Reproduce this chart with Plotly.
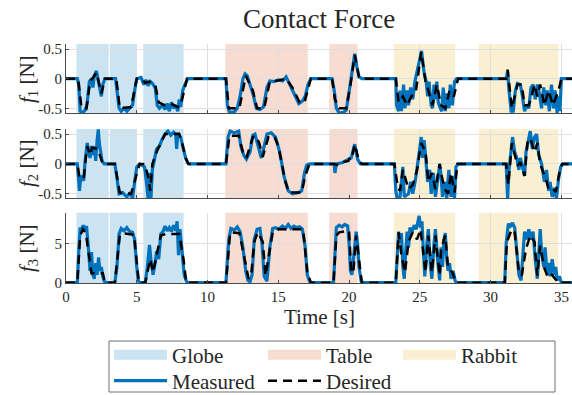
import plotly.graph_objects as go

# ---------------- data ----------------
X_TICKS = [0, 5, 10, 15, 20, 25, 30, 35]
Y_TICKS_12 = [-0.5, 0, 0.5]
Y_TICKTEXT_12 = ["-0.5", "0", "0.5"]
Y_TICKS_3 = [0, 5]
Y_TICKTEXT_3 = ["0", "5"]

GLOBE_SPANS = [(0.74, 3.02), (3.10, 4.95), (5.46, 8.31)]
TABLE_SPANS = [(11.26, 17.08), (18.60, 20.60)]
RABBIT_SPANS = [(23.16, 27.50), (29.17, 34.79)]

F1_DESIRED = [(0,0),(0.85,0),(1.1,-0.5),(1.45,-0.5),(1.7,-0.05),(2.16,0.1),(2.5,-0.25),(2.75,0),(3.55,0),(3.8,-0.5),
              (4.6,-0.48),(5.0,0),(5.3,0),(5.6,-0.07),(5.9,-0.05),(6.3,-0.1),(6.55,-0.4),(7.0,-0.45),(7.4,-0.42),(7.9,-0.48),
              (8.1,-0.45),(8.55,0),(11.3,0),(11.5,-0.5),(12.25,-0.5),(12.7,0.05),(13.2,-0.2),(13.5,-0.5),(14.0,-0.5),(14.4,-0.05),
              (15.0,-0.03),(15.55,0.0),(16.0,-0.15),(16.5,-0.4),(16.85,-0.4),(17.3,0),(18.8,0),(19.0,-0.35),(19.3,-0.5),(19.8,-0.5),
              (20.1,-0.1),(20.4,0.4),(20.7,0.03),(20.9,0),(23.3,0),(23.5,-0.4),(23.8,-0.3),(24.1,-0.45),(24.4,-0.3),(24.7,-0.25),
              (25.1,0.45),(25.4,-0.05),(25.6,-0.2),(25.9,-0.45),(26.2,-0.1),(26.5,-0.45),(26.8,-0.5),(27.1,-0.2),(27.4,-0.3),(27.7,0),
              (31.1,0),(31.2,0.15),(31.5,-0.5),(31.9,-0.1),(32.2,-0.1),(32.4,-0.45),(32.7,-0.45),(33.1,-0.1),(33.3,-0.3),(33.5,-0.1),
              (33.8,-0.45),(34.1,-0.2),(34.4,-0.45),(34.8,-0.2),(35.0,0),(35.75,0)]

F1_MEASURED = [(0,0),(0.8,0),(0.9,-0.1),(1.0,-0.55),(1.2,-0.57),(1.4,-0.52),(1.5,-0.4),(1.65,-0.05),(1.8,0.0),(1.9,-0.15),
               (2.0,0.05),(2.15,0.13),(2.25,0.0),(2.4,-0.2),(2.5,-0.3),(2.6,-0.1),(2.75,0.0),(3.5,0),(3.6,-0.2),(3.75,-0.5),
               (3.9,-0.55),(4.1,-0.5),(4.3,-0.55),(4.5,-0.5),(4.7,-0.45),(4.85,-0.2),(5.0,0.0),(5.3,0.02),(5.5,-0.1),(5.65,-0.02),
               (5.8,-0.12),(5.95,-0.05),(6.1,-0.08),(6.3,-0.15),(6.45,-0.45),(6.6,-0.5),(6.8,-0.45),(7.0,-0.52),(7.15,-0.42),(7.3,-0.55),
               (7.45,-0.4),(7.6,-0.5),(7.75,-0.45),(7.9,-0.55),(8.0,-0.35),(8.1,-0.48),(8.25,-0.2),(8.4,-0.1),(8.6,0),(11.3,0),
               (11.4,-0.45),(11.55,-0.57),(11.9,-0.56),(12.1,-0.5),(12.3,-0.3),(12.5,0.0),(12.65,0.08),(12.8,0.05),(13.0,-0.1),(13.2,-0.25),
               (13.45,-0.5),(13.7,-0.52),(13.95,-0.48),(14.2,-0.15),(14.4,-0.04),(14.7,-0.05),(15.0,-0.02),(15.3,-0.04),(15.55,0.03),(15.8,-0.1),
               (16.1,-0.25),(16.45,-0.42),(16.7,-0.38),(16.9,-0.3),(17.1,-0.1),(17.3,0),(18.8,0),(18.95,-0.2),(19.1,-0.5),(19.3,-0.58),
               (19.6,-0.57),(19.8,-0.53),(19.95,-0.3),(20.1,-0.05),(20.25,0.15),(20.4,0.42),(20.55,0.2),(20.7,0.03),(20.9,0),(23.3,0),
               (23.35,-0.45),(23.5,-0.55),(23.6,-0.2),(23.7,-0.55),(23.85,-0.1),(23.95,-0.5),(24.1,-0.2),(24.2,-0.45),(24.35,-0.15),(24.5,-0.35),
               (24.65,-0.05),(24.8,0.1),(25.0,0.35),(25.12,0.47),(25.3,0.1),(25.45,-0.05),(25.55,-0.3),(25.65,-0.05),(25.8,-0.45),(25.9,-0.5),
               (26.0,-0.1),(26.1,-0.35),(26.2,-0.05),(26.3,-0.4),(26.45,-0.5),(26.55,-0.55),(26.65,-0.15),(26.8,-0.55),(26.9,-0.25),(27.05,-0.5),
               (27.15,-0.1),(27.3,-0.45),(27.45,-0.05),(27.6,0),(31.1,0),(31.2,0.12),(31.3,-0.2),(31.45,-0.55),(31.6,-0.55),(31.75,-0.2),
               (31.9,-0.08),(32.1,-0.1),(32.25,-0.3),(32.4,-0.55),(32.55,-0.45),(32.7,-0.5),(32.85,-0.15),(33.0,-0.1),(33.15,-0.35),(33.3,-0.1),
               (33.45,-0.25),(33.6,-0.5),(33.75,-0.15),(33.9,-0.45),(34.0,-0.2),(34.15,-0.55),(34.3,-0.1),(34.45,-0.5),(34.55,-0.2),(34.7,-0.58),
               (34.8,-0.3),(34.9,-0.55),(35.0,0),(35.75,0)]

F2_DESIRED = [(0,0),(0.8,0),(0.95,-0.22),(1.25,-0.25),(1.4,0.1),(1.5,0.3),(1.7,0.15),(1.85,0.27),(2.25,0.25),(2.6,0),
              (3.45,0),(3.6,-0.2),(3.8,-0.48),(4.6,-0.5),(4.85,-0.3),(5.2,0),(5.55,0),(5.8,-0.2),(5.95,-0.45),(6.1,0.0),
              (6.4,0.2),(6.7,0.35),(7.0,0.5),(8.0,0.5),(8.2,0.35),(8.45,0.1),(8.65,0),(11.3,0),(11.55,0.47),(12.2,0.47),
              (12.5,0.2),(12.75,0.1),(13.2,0.45),(13.4,0.47),(13.65,0.35),(13.9,0.12),(14.3,0.45),(14.7,0.47),(15.0,0.3),(15.5,-0.3),
              (15.75,-0.48),(16.65,-0.48),(16.9,-0.2),(17.2,0),(18.9,0),(19.3,-0.02),(19.6,0.03),(19.95,0.05),(20.1,0.12),(20.2,0.1),
              (20.4,0.33),(20.7,0.05),(20.9,0),(23.2,0),(23.45,-0.4),(23.6,-0.45),(23.8,-0.1),(24.2,-0.42),(24.5,-0.35),(24.8,-0.1),
              (25.1,0.35),(25.4,0.2),(25.6,-0.3),(25.85,-0.15),(26.1,-0.42),(26.4,0),(26.5,-0.15),(26.75,-0.42),(27.0,-0.5),(27.2,-0.15),
              (27.45,-0.48),(27.65,0),(31.1,0),(31.25,-0.35),(31.5,0.35),(31.9,-0.03),(32.1,0.03),(32.4,-0.2),(32.6,0.35),(32.8,0.43),
              (33.1,0.2),(33.3,0.35),(33.5,0.0),(33.9,-0.25),(34.1,-0.42),(34.35,-0.4),(34.6,-0.47),(34.9,-0.1),(35.05,0),(35.75,0)]

F2_MEASURED = [(0,0),(0.8,0),(0.9,-0.3),(0.95,-0.45),(1.05,-0.2),(1.25,-0.28),(1.35,0.05),(1.5,0.35),(1.6,0.2),(1.7,0.1),
               (1.8,0.3),(1.9,0.15),(2.0,0.3),(2.1,0.05),(2.2,0.4),(2.28,0.58),(2.35,0.35),(2.45,0.2),(2.55,0.05),(2.7,0),
               (3.45,0),(3.55,-0.15),(3.75,-0.5),(4.0,-0.48),(4.3,-0.55),(4.55,-0.48),(4.7,-0.58),(4.85,-0.3),(5.0,-0.05),(5.2,0),
               (5.55,-0.05),(5.7,-0.35),(5.8,-0.58),(5.9,-0.15),(6.0,-0.58),(6.1,-0.1),(6.25,0.05),(6.4,0.25),(6.6,0.3),(6.8,0.42),
               (7.0,0.5),(7.2,0.55),(7.4,0.48),(7.6,0.53),(7.75,0.5),(7.82,0.25),(7.9,0.52),(8.1,0.45),(8.3,0.25),(8.45,0.1),
               (8.6,0.02),(8.75,0),(11.3,0),(11.45,0.45),(11.6,0.55),(11.9,0.52),(12.2,0.55),(12.35,0.3),(12.55,0.15),(12.75,0.08),
               (13.0,0.2),(13.2,0.48),(13.35,0.5),(13.6,0.3),(13.8,0.1),(13.95,0.25),(14.2,0.5),(14.5,0.52),(14.8,0.45),(15.1,0.2),
               (15.4,-0.2),(15.7,-0.45),(16.0,-0.5),(16.4,-0.48),(16.65,-0.45),(16.85,-0.15),(17.0,-0.02),(17.2,0),(18.95,0),(19.0,-0.15),
               (19.1,0.0),(19.5,0.02),(19.95,0.08),(20.15,0.1),(20.4,0.33),(20.6,0.08),(20.8,0),(23.2,0),(23.3,-0.45),(23.4,-0.58),
               (23.6,-0.55),(23.7,-0.3),(23.8,-0.05),(23.9,-0.55),(24.2,-0.5),(24.35,-0.3),(24.5,-0.5),(24.7,-0.25),(24.85,0.05),(25.0,0.3),
               (25.1,0.45),(25.2,0.1),(25.3,0.4),(25.4,0.15),(25.55,-0.3),(25.7,-0.1),(25.8,-0.5),(25.95,-0.15),(26.1,-0.55),(26.3,-0.2),
               (26.4,0.0),(26.5,-0.2),(26.6,-0.55),(26.75,-0.3),(26.9,-0.58),(27.05,-0.1),(27.2,-0.55),(27.3,-0.2),(27.45,-0.58),(27.55,-0.05),
               (27.7,0),(31.1,0),(31.2,-0.58),(31.3,-0.1),(31.45,0.3),(31.55,0.45),(31.7,0.2),(31.85,0.1),(32.0,-0.1),(32.1,0.1),
               (32.25,-0.05),(32.4,-0.2),(32.5,0.2),(32.65,0.4),(32.8,0.55),(32.95,0.25),(33.1,0.45),(33.25,0.5),(33.4,0.15),(33.6,0.0),
               (33.8,-0.3),(33.95,-0.1),(34.1,-0.45),(34.2,-0.3),(34.35,-0.55),(34.5,-0.4),(34.65,-0.58),(34.8,-0.25),(34.95,-0.05),(35.1,0),
               (35.75,0)]

F3_DESIRED = [(0,0),(0.8,0),(1.0,6.0),(1.2,6.8),(1.4,6.3),(1.65,3.0),(1.8,1.2),(2.6,1.2),(2.75,0),(3.45,0),
              (3.8,6.0),(4.0,6.3),(4.8,6.1),(5.15,0),(5.6,0),(5.95,3.0),(6.15,1.3),(6.4,3.5),(6.7,6.0),(7.05,6.2),
              (8.0,6.2),(8.3,3.0),(8.5,0),(11.3,0),(11.6,6.4),(12.25,6.3),(12.6,3.0),(12.9,0.5),(13.1,1.3),(13.3,5.2),
              (13.55,6.4),(13.9,5.2),(14.1,0.9),(14.4,4.3),(14.6,6.4),(14.95,6.8),(16.75,6.8),(17.05,1.3),(17.3,0),(18.9,0),
              (19.1,6.0),(19.3,6.4),(20.0,6.6),(20.15,1.3),(20.3,1.3),(20.5,6.0),(20.7,3.0),(20.9,0),(23.3,0),(23.5,6.4),
              (23.7,3.5),(23.95,1.3),(24.2,5.2),(24.5,6.4),(24.8,5.5),(25.05,6.8),(25.4,1.3),(25.6,6.0),(25.85,1.3),(26.1,6.0),
              (26.4,0.9),(26.5,4.3),(26.8,6.0),(27.0,1.8),(27.3,1.3),(27.55,0),(31.0,0),(31.15,5.2),(31.5,6.8),(31.7,6.4),
              (32.0,1.3),(32.2,0.9),(32.5,4.3),(32.8,6.0),(33.1,5.2),(33.3,0.9),(33.5,4.7),(33.8,1.8),(34.0,0.9),(34.2,1.3),
              (34.55,0.5),(34.8,0),(35.75,0)]

F3_MEASURED = [(0,0),(0.8,0),(0.9,4.0),(1.0,7.0),(1.1,6.5),(1.2,7.3),(1.35,6.8),(1.45,7.2),(1.6,4.0),(1.7,1.5),
               (1.8,3.9),(1.9,1.0),(2.0,0.5),(2.1,2.5),(2.2,1.0),(2.3,3.2),(2.4,1.5),(2.5,2.0),(2.6,0.8),(2.7,0.2),
               (2.8,0),(3.45,0),(3.6,2.0),(3.75,6.2),(3.9,6.9),(4.1,6.6),(4.3,7.0),(4.5,6.5),(4.7,6.4),(4.85,5.5),
               (5.0,2.0),(5.1,0.3),(5.2,0),(5.6,0),(5.75,2.0),(5.9,4.8),(6.0,3.0),(6.15,1.0),(6.3,2.5),(6.4,4.0),
               (6.55,3.0),(6.7,6.2),(6.85,6.5),(7.0,7.2),(7.15,6.6),(7.3,7.0),(7.45,6.5),(7.6,7.3),(7.75,6.6),(7.85,7.8),
               (7.95,3.5),(8.05,6.8),(8.2,4.0),(8.35,1.0),(8.5,0.2),(8.6,0),(11.3,0),(11.5,5.5),(11.65,6.9),(11.9,6.7),
               (12.1,7.1),(12.3,6.5),(12.5,4.5),(12.7,1.5),(12.85,0.3),(13.0,0.1),(13.15,1.0),(13.3,5.5),(13.5,6.8),(13.7,6.9),
               (13.85,5.0),(14.0,0.8),(14.2,0.2),(14.4,4.5),(14.6,6.9),(14.8,7.0),(15.0,6.8),(15.3,7.2),(15.5,6.9),(15.7,7.4),
               (15.9,6.9),(16.1,7.2),(16.3,7.0),(16.5,7.1),(16.7,6.8),(16.9,4.5),(17.05,1.0),(17.2,0.2),(17.3,0),(18.9,0),
               (19.0,3.5),(19.1,7.0),(19.3,7.3),(19.5,7.1),(19.7,7.4),(19.9,7.2),(20.0,5.0),(20.1,1.5),(20.2,1.0),(20.35,4.0),
               (20.5,6.5),(20.6,5.0),(20.7,2.0),(20.85,0.2),(21.0,0),(23.3,0),(23.4,4.0),(23.5,6.5),(23.6,5.0),(23.7,6.3),
               (23.8,2.0),(23.9,0.5),(24.0,4.0),(24.1,6.5),(24.2,4.5),(24.3,7.0),(24.45,6.5),(24.6,7.3),(24.75,6.8),(24.85,7.8),
               (24.95,8.5),(25.05,7.0),(25.15,7.8),(25.25,4.0),(25.35,0.8),(25.5,5.0),(25.6,6.8),(25.75,2.0),(25.85,0.5),(26.0,5.0),
               (26.1,6.8),(26.25,3.0),(26.4,0.3),(26.5,4.5),(26.6,2.0),(26.7,5.5),(26.8,6.3),(26.9,3.0),(27.0,1.5),(27.1,2.5),
               (27.2,0.5),(27.35,1.5),(27.5,0.2),(27.6,0),(31.0,0),(31.1,5.0),(31.25,7.5),(31.4,7.2),(31.55,7.6),(31.7,7.0),
               (31.85,4.0),(32.0,1.0),(32.15,0.3),(32.3,4.0),(32.4,6.5),(32.55,5.5),(32.7,6.8),(32.85,5.5),(33.0,6.5),(33.15,3.0),
               (33.3,0.5),(33.4,3.5),(33.5,6.8),(33.6,4.0),(33.75,2.0),(33.85,4.5),(34.0,1.0),(34.1,2.5),(34.2,0.8),(34.35,3.0),
               (34.5,1.0),(34.6,2.0),(34.7,0.3),(34.85,0.8),(35.0,0),(35.75,0)]

# ---------------- styling ----------------
W, H = 572, 395
ML = 66
PW = W - ML
FONT = "Liberation Serif"
BLUE = "#0072BD"
GLOBE_C = "rgba(0,114,189,0.2)"
TABLE_C = "rgba(217,83,25,0.2)"
RABBIT_C = "rgba(237,177,32,0.2)"
GLOBE_S = "rgb(204,227,242)"
TABLE_S = "rgb(247,221,209)"
RABBIT_S = "rgb(251,239,210)"
AX_C = "#4a4a4a"
GRID_C = "#dfdfdf"


def py2paper(py):
    return 1 - py / H


def px2paper(px):
    return (px - ML) / PW


panels = [
    dict(des=F1_DESIRED, mea=F1_MEASURED, top=44, bot=113, rng=[-0.58, 0.585],
         tv=Y_TICKS_12, tt=Y_TICKTEXT_12, label="<i>f</i><sub>1</sub> [N]", lab_y=79),
    dict(des=F2_DESIRED, mea=F2_MEASURED, top=129, bot=198.3, rng=[-0.575, 0.585],
         tv=Y_TICKS_12, tt=Y_TICKTEXT_12, label="<i>f</i><sub>2</sub> [N]", lab_y=163),
    dict(des=F3_DESIRED, mea=F3_MEASURED, top=212.7, bot=283.3, rng=[-0.08, 8.9],
         tv=Y_TICKS_3, tt=Y_TICKTEXT_3, label="<i>f</i><sub>3</sub> [N]", lab_y=248),
]

fig = go.Figure()
shapes = []
annotations = []
layout = {}

for i, p in enumerate(panels):
    n = "" if i == 0 else str(i + 1)
    xa, ya = "x" + n, "y" + n
    tm, vm = zip(*p["mea"])
    td, vd = zip(*p["des"])
    fig.add_trace(go.Scatter(x=tm, y=vm, xaxis=xa, yaxis=ya, mode="lines",
                             line=dict(color=BLUE, width=3.2), name="Measured",
                             showlegend=(i == 0), legend="legend4"))
    fig.add_trace(go.Scatter(x=td, y=vd, xaxis=xa, yaxis=ya, mode="lines",
                             line=dict(color="black", width=2.5, dash="9px,6px"), name="Desired",
                             showlegend=(i == 0), legend="legend5"))
    for spans, col in ((GLOBE_SPANS, GLOBE_C), (TABLE_SPANS, TABLE_C), (RABBIT_SPANS, RABBIT_C)):
        for (a, b) in spans:
            shapes.append(dict(type="rect", xref=xa, yref=ya + " domain", x0=a, x1=b, y0=0, y1=1,
                               fillcolor=col, line=dict(width=0), layer="below"))
    layout["xaxis" + n] = dict(domain=[0, 1], anchor=ya, range=[0, 35.75], tickvals=X_TICKS,
                               showticklabels=(i == 2), ticks="inside", ticklen=3, tickcolor=AX_C,
                               showline=True, linecolor=AX_C, linewidth=1, showgrid=True,
                               gridcolor=GRID_C, gridwidth=1, zeroline=False,
                               tickfont=dict(family=FONT, size=15, color="#262626"),
                               matches=None if i == 0 else "x")
    layout["yaxis" + n] = dict(domain=[py2paper(p["bot"]), py2paper(p["top"])], anchor=xa,
                               range=p["rng"], tickvals=p["tv"], ticktext=p["tt"],
                               ticks="inside", ticklen=3, tickcolor=AX_C,
                               showline=True, linecolor=AX_C, linewidth=1, showgrid=True,
                               gridcolor=GRID_C, gridwidth=1, zeroline=False,
                               tickfont=dict(family=FONT, size=15, color="#262626"))
    annotations.append(dict(text=p["label"], xref="paper", yref="paper", x=px2paper(28),
                            y=py2paper(p["lab_y"]), xanchor="center", yanchor="middle",
                            textangle=-90, showarrow=False,
                            font=dict(family=FONT, size=21, color="#262626")))

# legend-only entries for the shaded regions
for name, col, lg in (("Globe", GLOBE_S, "legend"), ("Table", TABLE_S, "legend2"), ("Rabbit", RABBIT_S, "legend3")):
    fig.add_trace(go.Scatter(x=[None], y=[None], mode="lines", name=name,
                             line=dict(color=col, width=17), legend=lg, showlegend=True))

annotations.append(dict(text="Contact Force", xref="paper", yref="paper", x=px2paper(319),
                        y=py2paper(19), xanchor="center", yanchor="middle", showarrow=False,
                        font=dict(family=FONT, size=27, color="#262626")))
annotations.append(dict(text="Time [s]", xref="paper", yref="paper", x=px2paper(319),
                        y=py2paper(317), xanchor="center", yanchor="middle", showarrow=False,
                        font=dict(family=FONT, size=21, color="#262626")))

# legend frame
shapes.append(dict(type="rect", xref="paper", yref="paper", x0=px2paper(109), x1=px2paper(555),
                   y0=py2paper(392), y1=py2paper(341), line=dict(color="#707070", width=1),
                   fillcolor="rgba(255,255,255,0)", layer="above"))


def leg(px, py):
    return dict(x=px2paper(px), y=py2paper(py), xanchor="left", yanchor="middle",
                bgcolor="rgba(0,0,0,0)", borderwidth=0, itemwidth=53,
                font=dict(family=FONT, size=21, color="#262626"), orientation="h")


layout.update(
    width=W, height=H,
    margin=dict(l=ML, r=0, t=0, b=0, autoexpand=False),
    paper_bgcolor="white", plot_bgcolor="white",
    shapes=shapes, annotations=annotations,
    legend=leg(109, 355), legend2=leg(263, 355), legend3=leg(398, 355),
    legend4=leg(109, 381), legend5=leg(263, 381),
)
fig.update_layout(**layout)
fig.write_html("out.html")
